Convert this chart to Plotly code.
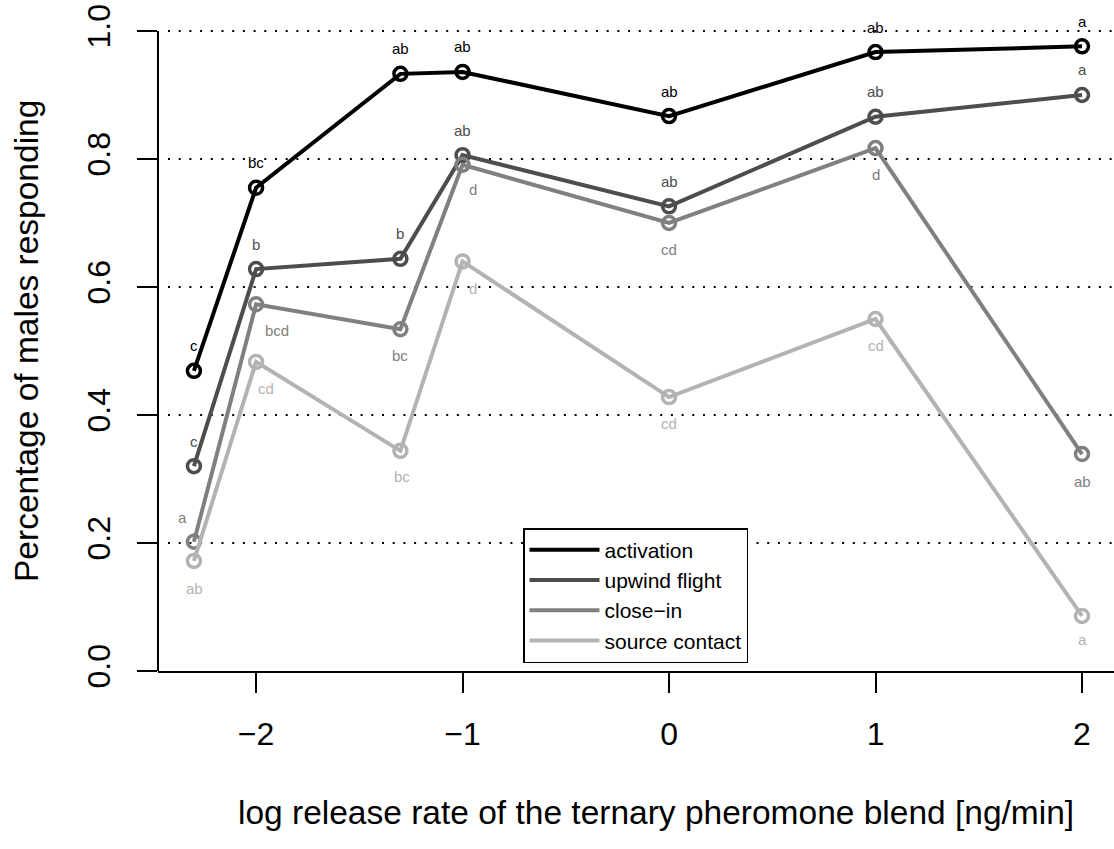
import numpy as np
import plotly.graph_objects as go

# ---- data ----
release_rate = [0.005, 0.01, 0.05, 0.1, 1, 10, 100]          # ng/min
x_log = list(np.log10(release_rate))

series_names = ["activation", "upwind flight", "close\u2212in", "source contact"]
activation = [0.469, 0.755, 0.933, 0.936, 0.867, 0.967, 0.976]
upwind_flight = [0.320, 0.628, 0.644, 0.806, 0.726, 0.866, 0.900]
close_in = [0.202, 0.573, 0.534, 0.791, 0.700, 0.817, 0.339]
source_contact = [0.172, 0.483, 0.344, 0.640, 0.428, 0.550, 0.086]

letters_activation = ["c", "bc", "ab", "ab", "ab", "ab", "a"]
letters_upwind = ["c", "b", "b", "ab", "ab", "ab", "a"]
letters_close = ["a", "bcd", "bc", "d", "cd", "d", "ab"]
letters_source = ["ab", "cd", "bc", "d", "cd", "cd", "a"]

y_ticks = [0.0, 0.2, 0.4, 0.6, 0.8, 1.0]
grid_levels = [0.2, 0.4, 0.6, 0.8, 1.0]
x_ticks = [-2, -1, 0, 1, 2]

# ---- styles ----
colors = ["#000000", "#4D4D4D", "#808080", "#B3B3B3"]
values = [activation, upwind_flight, close_in, source_contact]
letters = [letters_activation, letters_upwind, letters_close, letters_source]
# label pixel offsets (dx, dy)
label_offsets = [
    [(0, 25)] * 7,
    [(0, 25)] * 7,
    [(-11, 24), (21, -26), (0, -26), (10, -25), (0, -27), (0, -26), (0, -27)],
    [(1, -28), (10, -27), (2, -26), (10, -27), (0, -26), (0, -26), (0, -24)],
]

FONT = "Liberation Sans, Arial, sans-serif"
PLOT_LEFT, PLOT_W, PLOT_BOTTOM, PLOT_H = 158, 956, 671, 661

fig = go.Figure()

for name, vals, col in zip(series_names, values, colors):
    fig.add_trace(go.Scatter(
        x=x_log, y=vals, mode="lines+markers", showlegend=False,
        line=dict(color=col, width=4),
        marker=dict(symbol="circle-open", size=13, color=col, line=dict(width=3.5, color=col)),
        cliponaxis=False,
    ))

# legend-only line samples
for name, col in zip(series_names, colors):
    fig.add_trace(go.Scatter(
        x=[None], y=[None], mode="lines", name=name,
        line=dict(color=col, width=4),
    ))

annotations = []
for vals, labs, col, offs in zip(values, letters, colors, label_offsets):
    for xv, yv, lab, (dx, dy) in zip(x_log, vals, labs, offs):
        annotations.append(dict(
            x=xv, y=yv, xref="x", yref="y", text=lab, showarrow=False,
            xshift=dx, yshift=dy, font=dict(family=FONT, size=15, color=col),
            xanchor="center", yanchor="middle",
        ))

# axis titles
annotations.append(dict(
    x=(656 - PLOT_LEFT) / PLOT_W, y=(PLOT_BOTTOM - 812) / PLOT_H,
    xref="paper", yref="paper",
    text="log release rate of the ternary pheromone blend [ng/min]",
    showarrow=False, xanchor="center", yanchor="middle",
    font=dict(family=FONT, size=33.5, color="#000000"),
))
annotations.append(dict(
    x=(26 - PLOT_LEFT) / PLOT_W, y=(PLOT_BOTTOM - 341) / PLOT_H,
    xref="paper", yref="paper",
    text="Percentage of males responding", textangle=-90,
    showarrow=False, xanchor="center", yanchor="middle",
    font=dict(family=FONT, size=33.5, color="#000000"),
))

shapes = [dict(
    type="line", xref="paper", yref="y", x0=0, x1=0, y0=0, y1=1,
    line=dict(color="#000000", width=2),
)]
# dotted horizontal reference lines (start slightly right of the y axis)
for g in grid_levels:
    shapes.append(dict(
        type="line", xref="paper", yref="y", x0=10 / PLOT_W, x1=1, y0=g, y1=g,
        layer="below", line=dict(color="#000000", width=2, dash="2px,8.7px"),
    ))

fig.update_layout(
    width=1114, height=849,
    margin=dict(l=PLOT_LEFT, r=0, t=10, b=178),
    plot_bgcolor="white", paper_bgcolor="white",
    font=dict(family=FONT, color="#000000"),
    xaxis=dict(
        range=[-2.475, 2.155], tickvals=x_ticks,
        ticktext=["\u22122", "\u22121", "0", "1", "2"],
        showgrid=False, zeroline=False,
        showline=True, linecolor="#000000", linewidth=2,
        ticks="outside", ticklen=20, tickwidth=2, tickcolor="#000000",
        tickfont=dict(family=FONT, size=32, color="#000000"),
        ticklabelstandoff=14,
    ),
    yaxis=dict(
        range=[0, 1.0328], tickvals=y_ticks,
        ticktext=[f"{v:.1f}" for v in y_ticks],
        tickangle=-90,
        showgrid=False, zeroline=False, showline=False,
        ticks="outside", ticklen=20, tickwidth=2, tickcolor="#000000",
        tickfont=dict(family=FONT, size=32, color="#000000"),
        ticklabelstandoff=14,
    ),
    legend=dict(
        x=(523 - PLOT_LEFT) / PLOT_W, y=(PLOT_BOTTOM - 528) / PLOT_H,
        xanchor="left", yanchor="top",
        bgcolor="white", bordercolor="#000000", borderwidth=1.5,
        font=dict(family=FONT, size=21, color="#000000"),
        itemwidth=70, tracegroupgap=0,
    ),
    annotations=annotations,
    shapes=shapes,
)

fig.write_html("out.html")
